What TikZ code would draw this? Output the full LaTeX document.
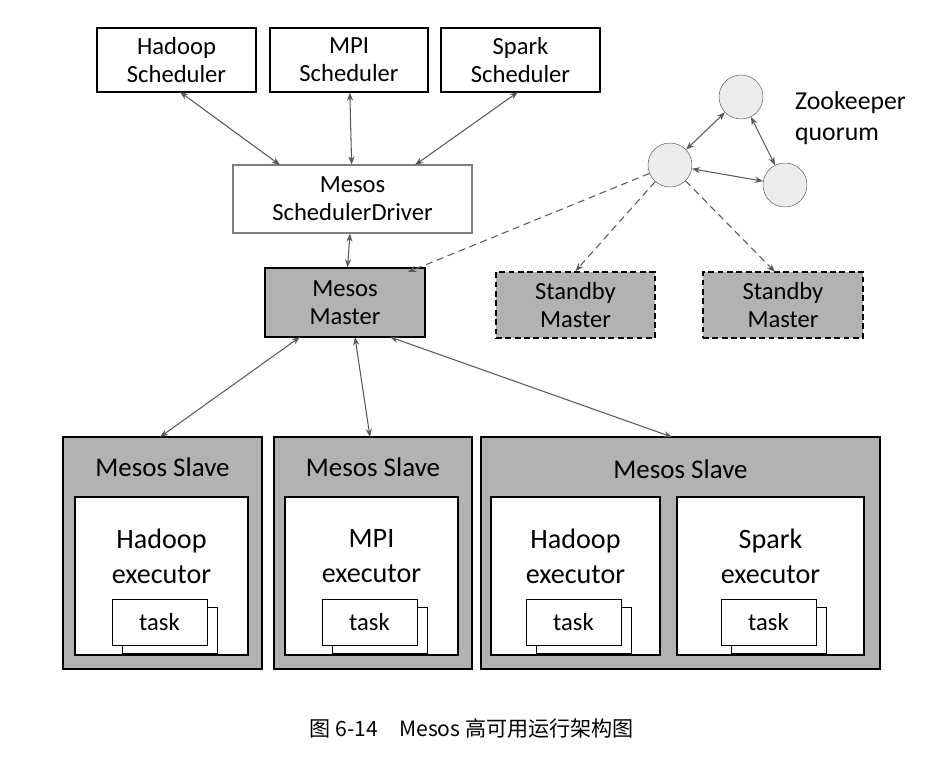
\documentclass[tikz,border=0pt]{standalone}
\usepackage{fontspec}
\setmainfont{Carlito}
\newfontfamily\cjk{Noto Sans CJK SC}
\usetikzlibrary{arrows.meta}
\begin{document}
\begin{tikzpicture}[x=0.03cm,y=-0.03cm,
  box/.style={draw,line width=0.9pt,fill=white,align=center,inner sep=0pt},
  dk/.style={draw,line width=1.2pt,fill=gray!60,align=center,inner sep=0pt},
  arr/.style={{Stealth[length=7pt]}-{Stealth[length=7pt]},draw=gray!70!black,line width=0.9pt},
  dsh/.style={-{Stealth[length=7pt]},dash pattern=on 6pt off 4pt,draw=gray!70!black,line width=0.9pt},
  zk/.style={circle,draw=gray!70!black,fill=gray!15,minimum size=1.32cm,inner sep=0pt},
  f1/.style={font=\fontsize{21}{24}\selectfont},
  f2/.style={font=\fontsize{22}{26}\selectfont},
  f3/.style={font=\fontsize{24}{30}\selectfont},
  f4/.style={font=\fontsize{23}{28}\selectfont}]
\useasboundingbox (0,0) rectangle (943,774);
% top schedulers
\node[box,f1,minimum width=4.77cm,minimum height=1.92cm] (hs) at (176.5,60) {Hadoop\\Scheduler};
\node[box,f1,minimum width=4.74cm,minimum height=1.92cm] (ms) at (349,60) {MPI\\Scheduler};
\node[box,f1,minimum width=4.77cm,minimum height=1.92cm] (ss) at (520.5,60) {Spark\\Scheduler};
\node[box,draw=gray,f1,minimum width=7.17cm,minimum height=2.04cm] (drv) at (352.5,199) {Mesos\\SchedulerDriver};
\node[dk,f1,minimum width=4.8cm,minimum height=2.07cm] (mm) at (345,302.5) {Mesos\\Master};
\node[dk,dash pattern=on 5pt off 3pt,line width=1.6pt,f1,minimum width=4.77cm,minimum height=1.98cm] (sb1) at (575.5,305) {Standby\\Master};
\node[dk,dash pattern=on 5pt off 3pt,line width=1.6pt,f1,minimum width=4.8cm,minimum height=1.98cm] (sb2) at (783,305) {Standby\\Master};
% zookeeper
\node[zk] (z1) at (741,97) {};
\node[zk] (z2) at (670,165) {};
\node[zk] (z3) at (785,185) {};
\node[f2,align=left,anchor=west] (zl) at (791,118) {Zookeeper\\quorum};
\draw[arr] (z1) -- (z2);
\draw[arr] (z1) -- (z3);
\draw[arr] (z2) -- (z3);
% arrows
\coordinate (a1) at (180,92);
\draw[arr] (a1) -- (280,165);
\draw[arr] (ms) -- (drv);
\coordinate (a3) at (518,92);
\draw[arr] (a3) -- (415,165);
\draw[arr] (drv) -- (mm);
\draw[dsh] (z2) -- (408,272);
\draw[dsh] (z2) -- (sb1.north);
\draw[dsh] (z2) -- (775,272);
% slaves
\node[dk,minimum width=5.97cm,minimum height=6.96cm] (s1) at (162.5,553) {};
\node[dk,minimum width=5.94cm,minimum height=6.96cm] (s2) at (373,553) {};
\node[dk,minimum width=11.97cm,minimum height=6.96cm] (s3) at (680.5,553) {};
\node[f4] (t1) at (162.5,467) {Mesos Slave};
\node[f4] (t2) at (373,467) {Mesos Slave};
\node[f4] (t3) at (680.5,469) {Mesos Slave};
\draw[arr] (300,337) -- (160,437);
\draw[arr] (355,337) -- (370,437);
\draw[arr] (390,337) -- (672,437);
\newcommand\ex[4]{%
  \node[box,line width=1.1pt,minimum width=#3*0.03cm,minimum height=4.74cm] (e#4) at (#1,576) {};
  \node[f3,align=center] (el#4) at (#1,556) {#2\\executor};
  \node[box,line width=0.8pt,minimum width=2.85cm,minimum height=1.38cm] (k#4b) at (#1+8,630) {};
  \node[box,line width=0.8pt,f1,minimum width=2.85cm,minimum height=1.38cm] (k#4) at (#1-2,622) {task};}
\ex{161.5}{Hadoop}{173}{a}
\ex{371.5}{MPI}{173}{b}
\ex{575.5}{Hadoop}{169}{c}
\ex{770.5}{Spark}{187}{d}
\node[font=\cjk\fontsize{18}{22}\selectfont] (cap) at (472,728) {图 6-14\quad Mesos 高可用运行架构图};
\end{tikzpicture}
\end{document}
